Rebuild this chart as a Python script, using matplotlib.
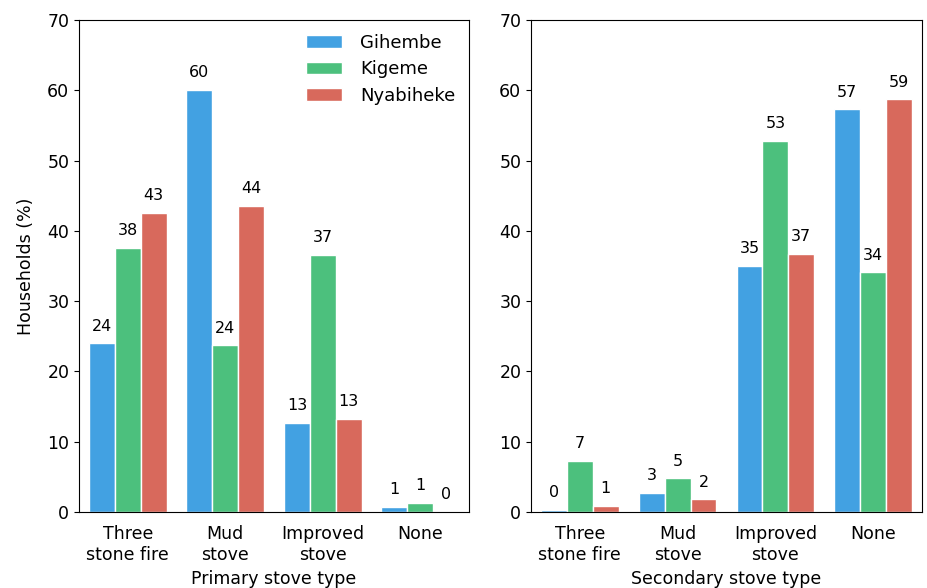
import matplotlib
matplotlib.use("Agg")
import matplotlib.pyplot as plt
import numpy as np

categories = ["Three\nstone fire", "Mud\nstove", "Improved\nstove", "None"]
series_names = ["Gihembe", "Kigeme", "Nyabiheke"]
colors = ["#42a1e2", "#4cc07d", "#d8695c"]

primary_gihembe = [24.0, 60.1, 12.7, 0.7]
primary_kigeme = [37.6, 23.7, 36.6, 1.3]
primary_nyabiheke = [42.6, 43.6, 13.3, 0.0]

secondary_gihembe = [0.3, 2.7, 35.0, 57.3]
secondary_kigeme = [7.3, 4.8, 52.8, 34.1]
secondary_nyabiheke = [0.9, 1.8, 36.7, 58.7]

yticks = [0, 10, 20, 30, 40, 50, 60, 70]

FS = 12.5

fig = plt.figure(figsize=(9.27, 5.88), dpi=100)
W, H = 927, 588
ax1 = fig.add_axes([79 / W, 1 - 512 / H, 390 / W, 492 / H])
ax2 = fig.add_axes([531 / W, 1 - 512 / H, 391 / W, 492 / H])

width = 0.265
x = np.arange(len(categories))

def draw(ax, data, xlabel, legend=False):
    for i, (vals, name, c) in enumerate(zip(data, series_names, colors)):
        xs = x + (i - 1) * width
        bars = ax.bar(xs, vals, width, color=c, edgecolor="white", linewidth=1, label=name)
        for b, v in zip(bars, vals):
            ax.annotate(f"{round(v):d}", (b.get_x() + b.get_width() / 2, b.get_height()),
                        xytext=(0, 7), textcoords="offset points", ha="center", va="bottom",
                        fontsize=11.5)
    ax.set_xlim(-0.5, 3.5)
    ax.set_ylim(0, 70)
    ax.set_yticks(yticks)
    ax.set_xticks(x)
    ax.set_xticklabels(categories, fontsize=FS)
    ax.tick_params(axis="y", labelsize=FS)
    ax.tick_params(axis="x", length=0, pad=9.5)
    ax.set_xlabel(xlabel, fontsize=FS, labelpad=4)
    if legend:
        ax.legend(loc="upper right", frameon=False, fontsize=13, labelspacing=0.48,
                  borderaxespad=0.45, borderpad=0.3, handletextpad=1.0)

draw(ax1, [primary_gihembe, primary_kigeme, primary_nyabiheke], "Primary stove type", legend=True)
draw(ax2, [secondary_gihembe, secondary_kigeme, secondary_nyabiheke], "Secondary stove type")
ax1.set_ylabel("Households (%)", fontsize=FS, labelpad=9)

fig.savefig("out.png", dpi=100)
